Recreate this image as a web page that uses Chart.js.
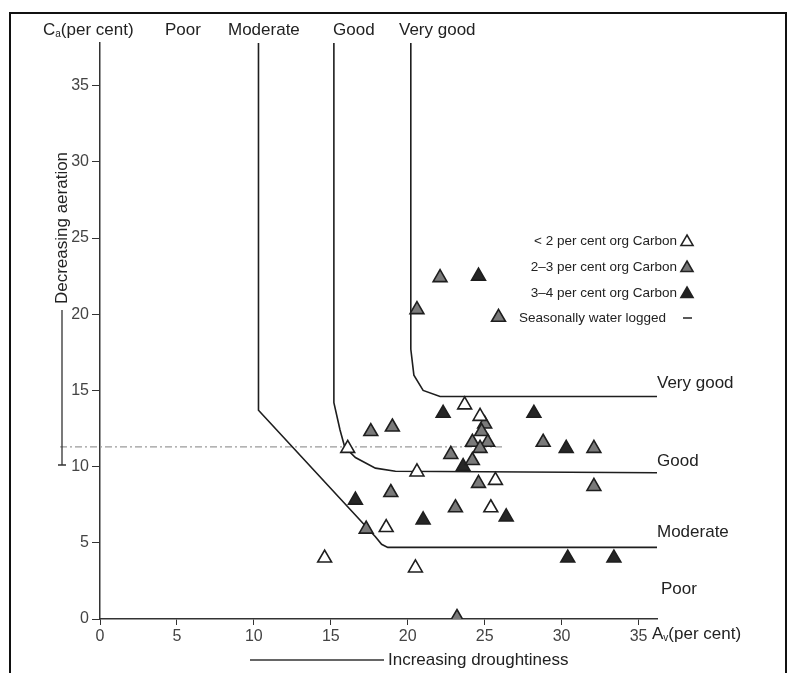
<!DOCTYPE html>
<html>
<head>
<meta charset="utf-8">
<script src="https://cdn.jsdelivr.net/npm/chart.js@4.4.1/dist/chart.umd.min.js"></script>
<style>
  html, body { margin: 0; padding: 0; background: #fff; }
</style>
</head>
<body>
<canvas id="soilChart" width="792" height="673"></canvas>
<script>
// axis ticks
const xTicks = [0, 5, 10, 15, 20, 25, 30, 35];
const yTicks = [0, 5, 10, 15, 20, 25, 30, 35];

// < 2 per cent org carbon (open triangles)
const lowX = [23.7, 24.7, 16.1, 20.6, 25.7, 25.4, 18.6, 14.6, 20.5];
const lowY = [14.05, 13.3, 11.2, 9.65, 9.1, 7.3, 6.0, 4.0, 3.35];

// 2-3 per cent org carbon
const midX = [22.1, 20.6, 25.9, 25.0, 17.6, 19.0, 24.8, 24.2, 25.2, 28.8, 32.1, 22.8, 24.2, 24.6, 18.9, 23.1, 17.3, 32.1, 23.2, 24.7];
const midY = [22.4, 20.3, 19.8, 12.8, 12.3, 12.6, 12.3, 11.6, 11.6, 11.6, 11.2, 10.8, 10.4, 8.9, 8.3, 7.3, 5.9, 8.7, 0.1, 11.2];

// 3-4 per cent org carbon
const highX = [24.6, 22.3, 28.2, 30.3, 23.6, 16.6, 26.4, 21.0, 30.4, 33.4];
const highY = [22.5, 13.5, 13.5, 11.2, 10.0, 7.8, 6.7, 6.5, 4.0, 4.0];

// class boundaries
const veryGoodX = [20.2, 20.2, 20.4, 21.0, 22.1, 36.2];
const veryGoodY = [37.8, 17.7, 16.0, 15.0, 14.6, 14.6];
const goodX = [15.2, 15.2, 15.6, 15.9, 16.6, 17.9, 19.2, 36.2];
const goodY = [37.8, 14.2, 12.4, 11.3, 10.6, 9.9, 9.7, 9.6];
const moderateX = [10.3, 10.3, 17.9, 18.3, 18.7, 36.2];
const moderateY = [37.8, 13.7, 5.4, 4.9, 4.7, 4.7];

// seasonally water logged level
const waterX = [-2.6, 26.3];
const waterY = [11.3, 11.3];

const toPts = (xs, ys) => xs.map((x, i) => ({ x: x, y: ys[i] }));

const FONT = '"Liberation Sans", Arial, sans-serif';

function subText(ctx, x, y, main, sub, rest, size) {
  ctx.font = size + 'px ' + FONT;
  ctx.fillText(main, x, y);
  let w = ctx.measureText(main).width;
  ctx.font = Math.round(size * 0.6) + 'px ' + FONT;
  ctx.fillText(sub, x + w, y + size * 0.25);
  w += ctx.measureText(sub).width;
  ctx.font = size + 'px ' + FONT;
  ctx.fillText(rest, x + w, y);
}

function tri(ctx, cx, cy, r, fill) {
  ctx.beginPath();
  ctx.moveTo(cx, cy - r);
  ctx.lineTo(cx + r * 0.87, cy + r * 0.5);
  ctx.lineTo(cx - r * 0.87, cy + r * 0.5);
  ctx.closePath();
  ctx.fillStyle = fill;
  ctx.fill();
  ctx.lineWidth = 1.5;
  ctx.strokeStyle = '#222';
  ctx.stroke();
}

const annotations = {
  id: 'annotations',
  afterDraw(chart) {
    const ctx = chart.ctx;
    ctx.save();
    // frame
    ctx.strokeStyle = '#111';
    ctx.lineWidth = 2;
    ctx.strokeRect(10, 13, 776, 680);

    ctx.fillStyle = '#222';
    ctx.textBaseline = 'middle';
    ctx.textAlign = 'left';
    subText(ctx, 43, 30, 'C', 'a', '(per cent)', 17);
    ctx.font = '17px ' + FONT;
    ctx.fillText('Poor', 165, 30);
    ctx.fillText('Moderate', 228, 30);
    ctx.fillText('Good', 333, 30);
    ctx.fillText('Very good', 399, 30);

    ctx.font = '17px ' + FONT;
    ctx.fillText('Very good', 657, 383);
    ctx.fillText('Good', 657, 461);
    ctx.fillText('Moderate', 657, 532);
    ctx.fillText('Poor', 661, 589);

    subText(ctx, 652, 634, 'A', 'v', '(per cent)', 17);

    // x axis note
    ctx.font = '17px ' + FONT;
    ctx.fillText('Increasing droughtiness', 388, 660);
    ctx.strokeStyle = '#333';
    ctx.lineWidth = 1.3;
    ctx.beginPath();
    ctx.moveTo(250, 660);
    ctx.lineTo(384, 660);
    ctx.stroke();

    // y axis note
    ctx.save();
    ctx.translate(62, 228);
    ctx.rotate(-Math.PI / 2);
    ctx.textAlign = 'center';
    ctx.fillText('Decreasing aeration', 0, 0);
    ctx.restore();
    ctx.beginPath();
    ctx.moveTo(62, 310);
    ctx.lineTo(62, 465);
    ctx.moveTo(58, 465);
    ctx.lineTo(66, 465);
    ctx.stroke();

    // legend
    ctx.textAlign = 'right';
    ctx.font = '13.5px ' + FONT;
    const rows = [['< 2 per cent org Carbon', '#fff', 241], ['2\u20133 per cent org Carbon', '#777', 267], ['3\u20134 per cent org Carbon', '#222', 293]];
    rows.forEach(r => {
      ctx.fillStyle = '#222';
      ctx.fillText(r[0], 677, r[2]);
      tri(ctx, 687, r[2] + 1, 7, r[1]);
    });
    ctx.fillStyle = '#222';
    ctx.fillText('Seasonally water logged', 666, 318);
    ctx.beginPath();
    ctx.moveTo(683, 318);
    ctx.lineTo(692, 318);
    ctx.stroke();
    ctx.restore();
  }
};

const lineStyle = { type: 'line', showLine: true, pointRadius: 0, borderColor: '#1e1e1e', borderWidth: 1.6, tension: 0, fill: false, clip: false, order: 2 };
const markStyle = { pointStyle: 'triangle', pointRadius: 8, pointBorderWidth: 1.6, pointBorderColor: '#1e1e1e', borderColor: '#1e1e1e', order: 1 };

new Chart(document.getElementById('soilChart').getContext('2d'), {
  type: 'scatter',
  data: {
    datasets: [
      Object.assign({ label: '< 2 per cent org Carbon', data: toPts(lowX, lowY), pointBackgroundColor: '#ffffff', backgroundColor: '#ffffff' }, markStyle),
      Object.assign({ label: '2-3 per cent org Carbon', data: toPts(midX, midY), pointBackgroundColor: '#7a7a7a', backgroundColor: '#7a7a7a' }, markStyle),
      Object.assign({ label: '3-4 per cent org Carbon', data: toPts(highX, highY), pointBackgroundColor: '#262626', backgroundColor: '#262626' }, markStyle),
      Object.assign({ label: 'Very good', data: toPts(veryGoodX, veryGoodY) }, lineStyle),
      Object.assign({ label: 'Good', data: toPts(goodX, goodY) }, lineStyle),
      Object.assign({ label: 'Moderate', data: toPts(moderateX, moderateY) }, lineStyle),
      Object.assign({ label: 'Seasonally water logged', data: toPts(waterX, waterY) }, lineStyle, { borderColor: '#9a9a9a', borderWidth: 1.3, borderDash: [7, 3, 2, 3] })
    ]
  },
  options: {
    responsive: false,
    animation: false,
    layout: { padding: { top: 43, right: 135, left: 0, bottom: 0 } },
    plugins: { legend: { display: false }, tooltip: { enabled: false } },
    scales: {
      x: {
        type: 'linear', min: 0, max: 36.2,
        afterBuildTicks: s => { s.ticks = xTicks.map(v => ({ value: v })); },
        afterFit: s => { s.height = 54; },
        grid: { display: true, drawOnChartArea: false, tickLength: 6, color: '#333' },
        border: { display: true, color: '#333', width: 1.5 },
        ticks: { color: '#444', font: { family: FONT, size: 16 }, padding: 2 }
      },
      y: {
        type: 'linear', min: 0, max: 37.8,
        afterBuildTicks: s => { s.ticks = yTicks.map(v => ({ value: v })); },
        afterFit: s => { s.width = 100; },
        grid: { display: true, drawOnChartArea: false, tickLength: 8, color: '#333' },
        border: { display: true, color: '#333', width: 1.5 },
        ticks: { color: '#444', font: { family: FONT, size: 16 }, padding: 3 }
      }
    }
  },
  plugins: [annotations]
});
</script>
</body>
</html>
